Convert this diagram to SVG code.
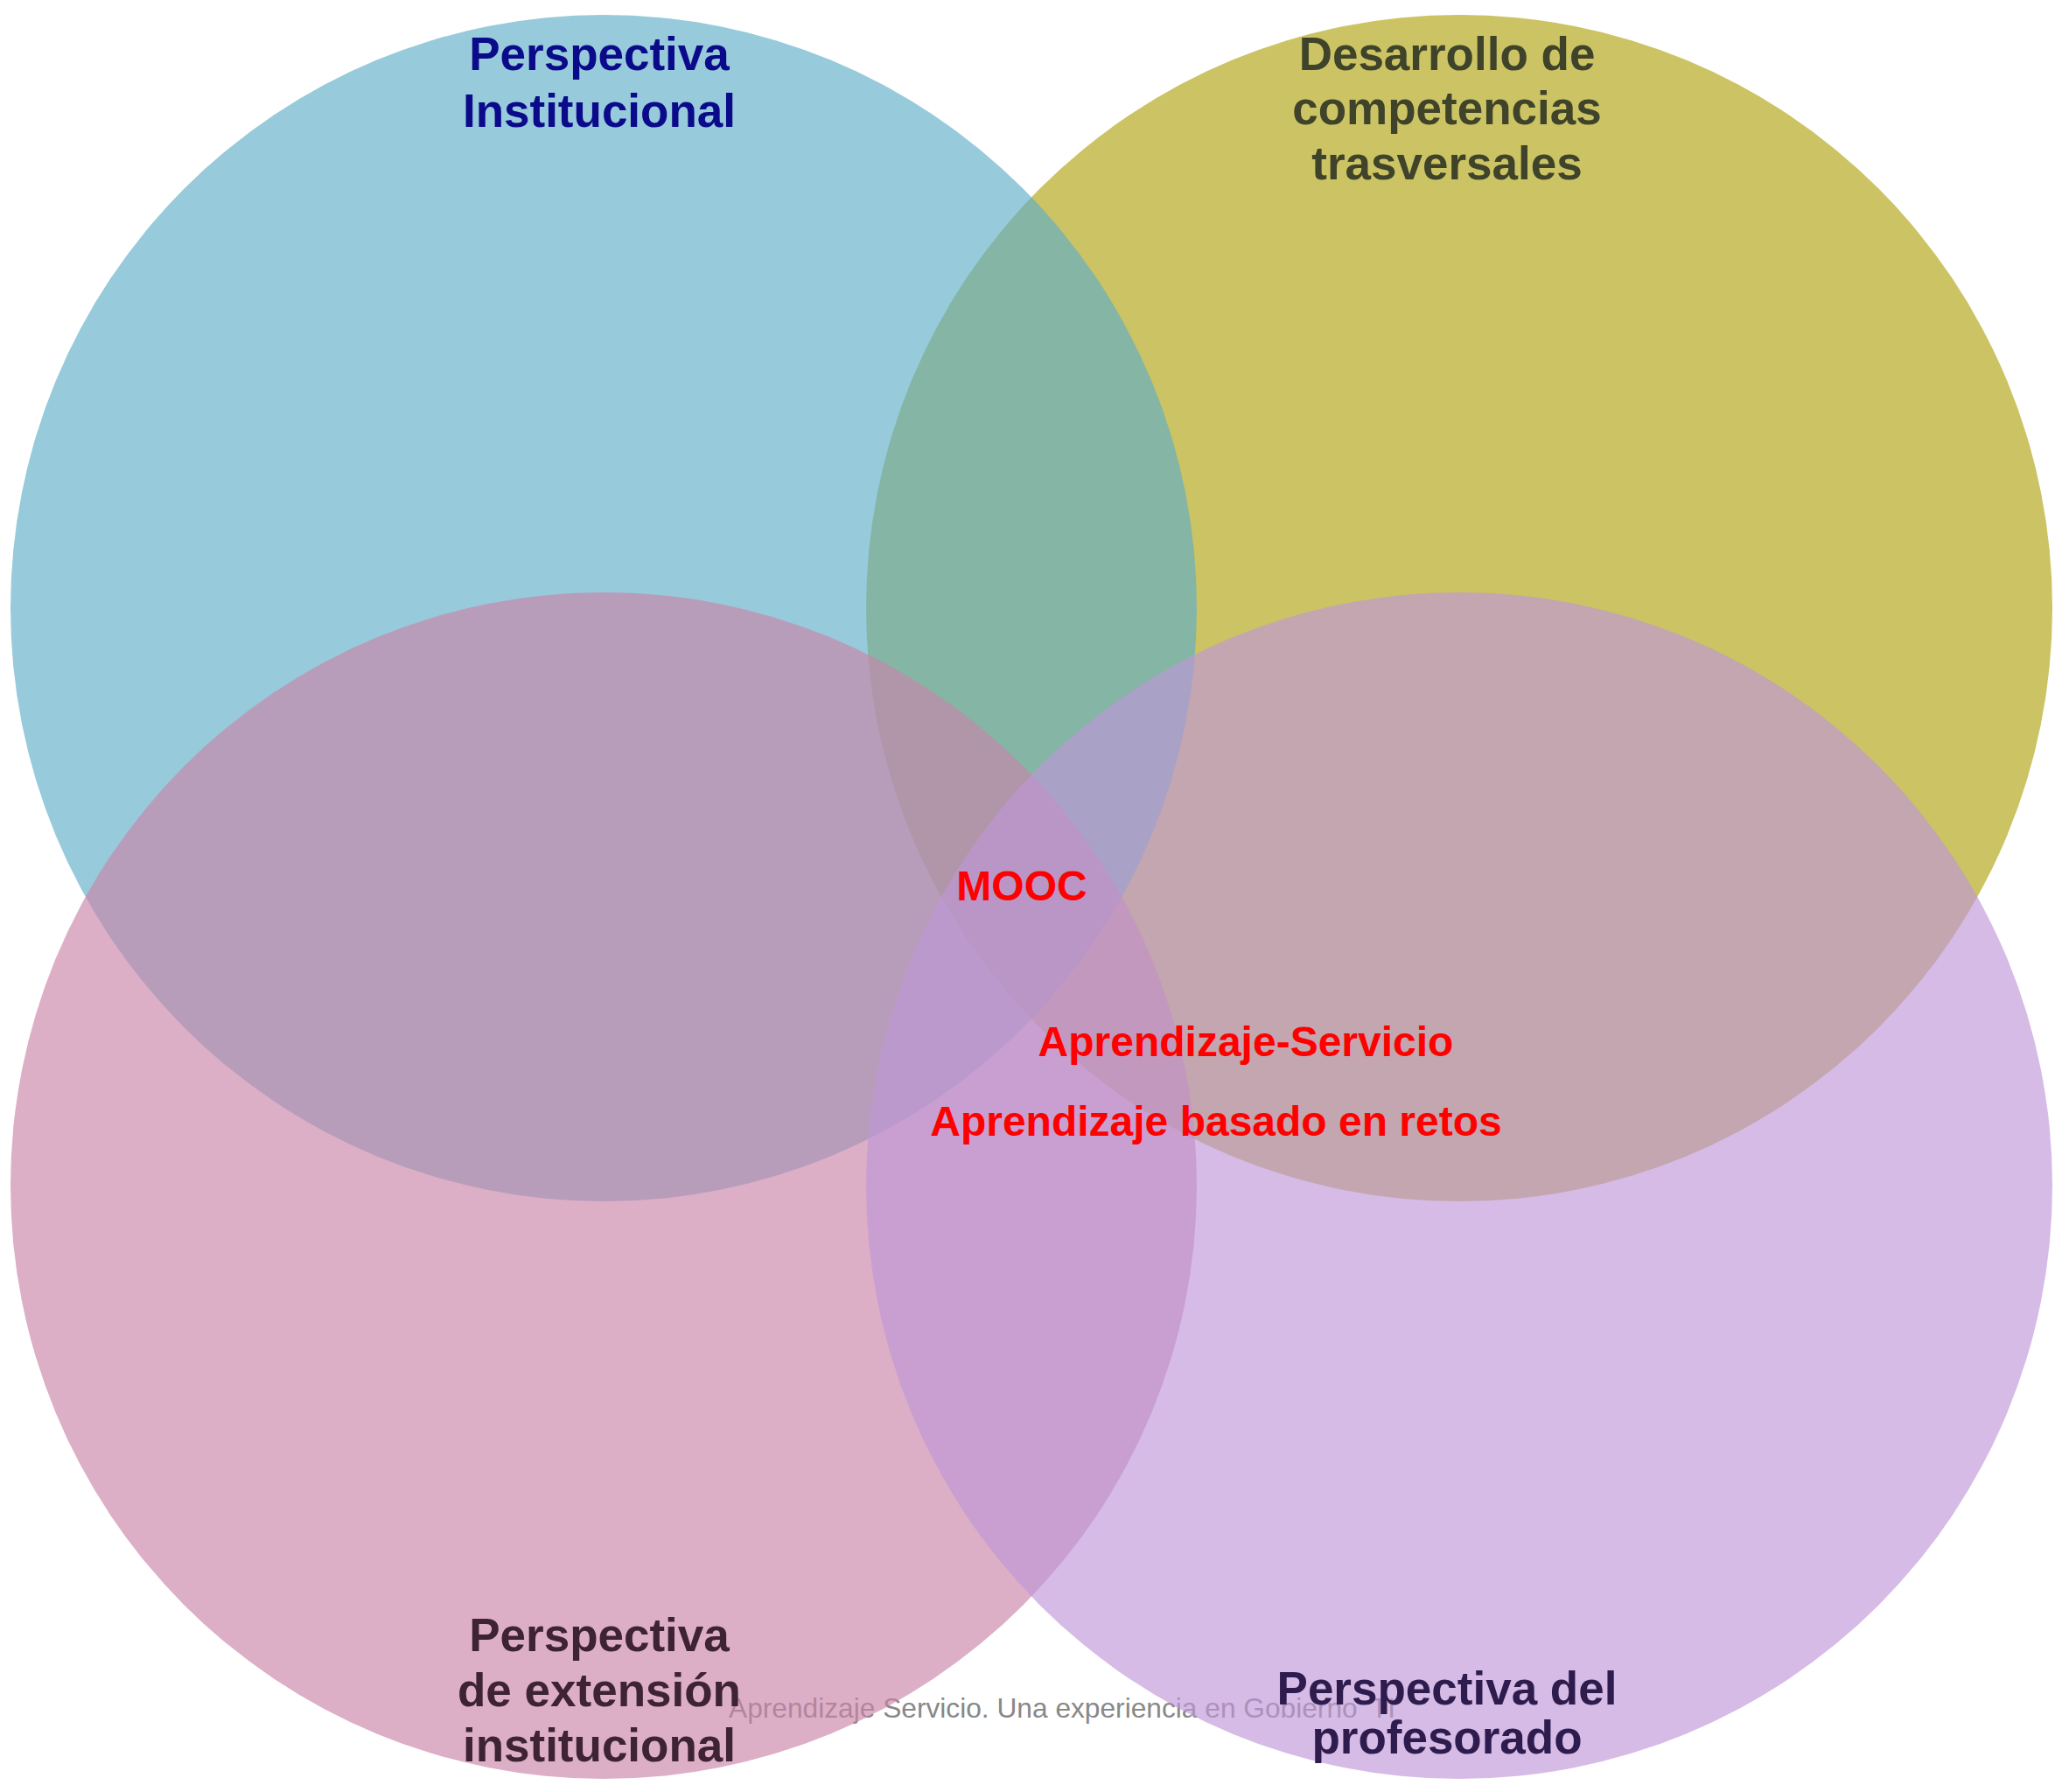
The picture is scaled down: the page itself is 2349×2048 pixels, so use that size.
<svg xmlns="http://www.w3.org/2000/svg" width="2349" height="2048" viewBox="0 0 2349 2048">
<style>
.c{opacity:0.65}
.t{font-family:"Liberation Sans",Arial,sans-serif;font-weight:bold;font-size:53px;text-anchor:middle}
.r{font-family:"Liberation Sans",Arial,sans-serif;font-weight:bold;font-size:48px;text-anchor:middle;fill:#ff0000}
.f{font-family:"Liberation Sans",Arial,sans-serif;font-size:31.7px;fill:#888888}
</style>
<rect width="2349" height="2048" fill="#ffffff"/>
<text id="footer" class="f" x="833" y="1963">Aprendizaje Servicio. Una experiencia en Gobierno <tspan x="1567">TI</tspan></text>
<g id="circles">
<circle id="olive" class="c" cx="1668" cy="695" r="678" fill="rgb(175,163,17)"/>
<circle id="blue" class="c" cx="690" cy="695" r="678" fill="rgb(95,174,200)"/>
<circle id="pink" class="c" cx="690" cy="1355" r="678" fill="rgb(202,132,169)"/>
<circle id="purple" class="c" cx="1668" cy="1355" r="678" fill="rgb(191,151,215)"/>
</g>
<g id="label-institucional">
<text class="t" x="685" y="80" fill="#0a0a8a">Perspectiva</text>
<text class="t" x="685" y="145" fill="#0a0a8a">Institucional</text>
</g>
<g id="label-competencias">
<text class="t" x="1654" y="80" fill="#3e432a">Desarrollo de</text>
<text class="t" x="1654" y="142" fill="#3e432a">competencias</text>
<text class="t" x="1654" y="205" fill="#3e432a">trasversales</text>
</g>
<g id="label-extension">
<text class="t" x="685" y="1887" fill="#3e2333">Perspectiva</text>
<text class="t" x="685" y="1950" fill="#3e2333">de extensión</text>
<text class="t" x="685" y="2013" fill="#3e2333">institucional</text>
</g>
<g id="label-profesorado">
<text class="t" x="1654" y="1948" fill="#2e1c4e">Perspectiva del</text>
<text class="t" x="1654" y="2004" fill="#2e1c4e">profesorado</text>
</g>
<g id="center-labels">
<text class="r" x="1168" y="1029">MOOC</text>
<text class="r" x="1424" y="1207">Aprendizaje-Servicio</text>
<text class="r" x="1390" y="1298">Aprendizaje basado en retos</text>
</g>
</svg>
